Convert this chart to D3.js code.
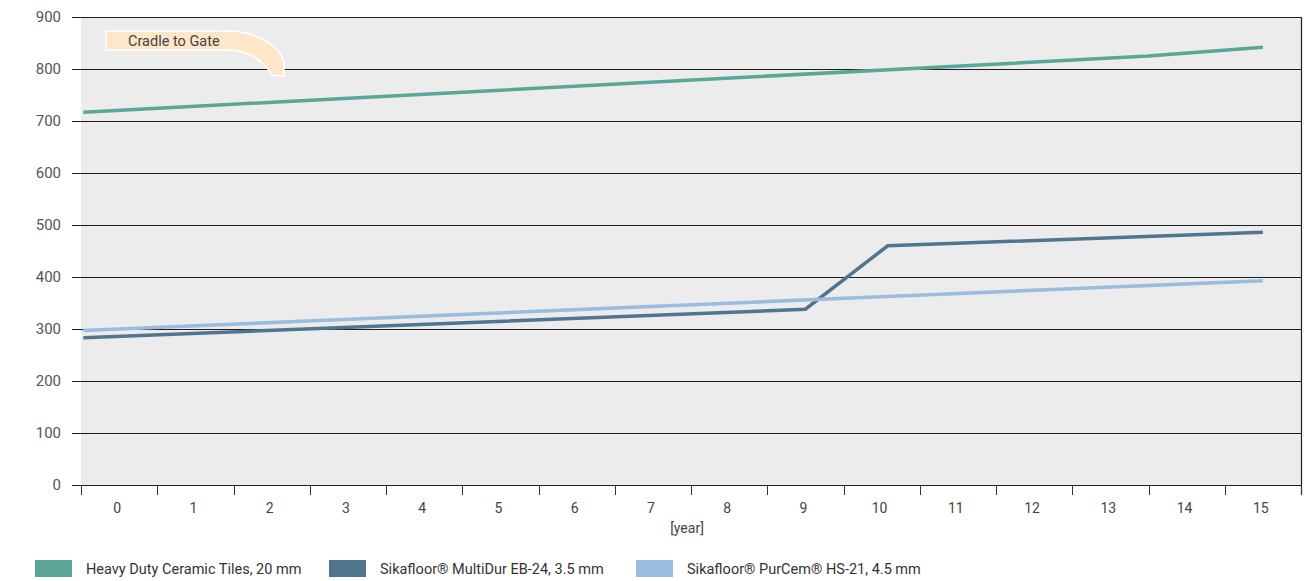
<!DOCTYPE html>
<html lang="en">

<head>
    <meta charset="UTF-8">
    <title>Cradle to Gate</title>
    <script src="https://d3js.org/d3.v7.min.js"></script>
    <style>
        body {
            margin: 0;
            background: #fff;
            font-family: Roboto, "Noto Sans", sans-serif;
        }

        .grid line {
            stroke: #1e1e1e;
            stroke-width: 1px;
        }

        .ytick {
            font-size: 15px;
            fill: #555;
        }

        .xtick {
            font-size: 14px;
            fill: #444;
        }

        .series {
            fill: none;
            stroke-width: 3.5px;
        }

        .legend text {
            font-size: 14.5px;
            fill: #333;
        }
    </style>
</head>

<body>
    <div id="chart"></div>
</body>

<script>
    const width = 1313;
    const height = 581;

    // x categories (years) and y ticks
    const years = d3.range(0, 16);
    const yTicks = [0, 100, 200, 300, 400, 500, 600, 700, 800, 900];

    // series: breakpoints (first point sits at the left edge)
    const ceramicYears = [-0.47, 13.5, 15];
    const ceramicValues = [717, 825, 842];
    const multiDurYears = [-0.47, 9, 10.08, 15];
    const multiDurValues = [283, 338, 460, 486];
    const purCemYears = [-0.47, 15];
    const purCemValues = [297, 393];

    const seriesNames = [
        "Heavy Duty Ceramic Tiles, 20 mm",
        "Sikafloor® MultiDur EB-24, 3.5 mm",
        "Sikafloor® PurCem® HS-21, 4.5 mm"
    ];
    const seriesColors = ["#5aa79a", "#50758e", "#99bcdf"];

    const series = [
        d3.zip(ceramicYears, ceramicValues),
        d3.zip(multiDurYears, multiDurValues),
        d3.zip(purCemYears, purCemValues)
    ];

    const plotLeft = 81, plotRight = 1301, plotTop = 17, plotBottom = 485;

    const x = d3.scaleLinear().domain([-0.5, 15.5]).range([plotLeft, plotRight]);
    const y = d3.scaleLinear().domain([0, 900]).range([plotBottom, plotTop]);

    const svg = d3.select("#chart")
        .append("svg")
        .attr("width", width)
        .attr("height", height);

    // plot background
    svg.append("rect")
        .attr("x", plotLeft)
        .attr("y", plotTop)
        .attr("width", plotRight - plotLeft)
        .attr("height", plotBottom - plotTop)
        .attr("fill", "#ececec");

    // horizontal grid lines
    const grid = svg.append("g").attr("class", "grid");
    grid.selectAll("line")
        .data(yTicks)
        .enter()
        .append("line")
        .attr("x1", 72)
        .attr("x2", plotRight)
        .attr("y1", d => Math.round(y(d)) + 0.5)
        .attr("y2", d => Math.round(y(d)) + 0.5);

    svg.selectAll(".ytick")
        .data(yTicks)
        .enter()
        .append("text")
        .attr("class", "ytick")
        .attr("x", 61)
        .attr("y", d => y(d))
        .attr("dy", "0.35em")
        .attr("text-anchor", "end")
        .text(d => d);

    // right border
    svg.append("line")
        .attr("x1", plotRight + 0.5)
        .attr("x2", plotRight + 0.5)
        .attr("y1", plotTop)
        .attr("y2", plotBottom + 10)
        .attr("stroke", "#1e1e1e")
        .attr("stroke-width", 1.2);

    // x ticks at band boundaries
    const bounds = d3.range(0, 17).map(i => i - 0.5);
    svg.selectAll(".xmark")
        .data(bounds)
        .enter()
        .append("line")
        .attr("class", "xmark")
        .attr("x1", d => Math.round(x(d)) + 0.5)
        .attr("x2", d => Math.round(x(d)) + 0.5)
        .attr("y1", plotBottom)
        .attr("y2", plotBottom + 10)
        .attr("stroke", "#333")
        .attr("stroke-width", 1);

    svg.selectAll(".xtick")
        .data(years)
        .enter()
        .append("text")
        .attr("class", "xtick")
        .attr("x", d => x(d) - 2)
        .attr("y", 508)
        .attr("dy", "0.35em")
        .attr("text-anchor", "middle")
        .text(d => d);

    svg.append("text")
        .attr("class", "xtick")
        .attr("x", 687)
        .attr("y", 528)
        .attr("dy", "0.35em")
        .attr("text-anchor", "middle")
        .text("[year]");

    // series lines
    const line = d3.line()
        .x(d => x(d[0]))
        .y(d => y(d[1]));

    svg.selectAll(".series")
        .data(series)
        .enter()
        .append("path")
        .attr("class", "series")
        .attr("d", line)
        .attr("stroke", (d, i) => seriesColors[i]);

    // "Cradle to Gate" callout
    const note = svg.append("g").attr("transform", "translate(106,31)");
    note.append("path")
        .attr("d", "M0,0 H122 C150,0 172,14 178,30 L178,45 L166,44 C158,30 142,19 122,19 H0 Z")
        .attr("fill", "#fde7c8")
        .attr("stroke", "#fff")
        .attr("stroke-width", 1.5);
    note.append("text")
        .attr("x", 22)
        .attr("y", 9.5)
        .attr("dy", "0.35em")
        .attr("font-size", 14.5)
        .attr("fill", "#444")
        .text("Cradle to Gate");

    // legend
    const legendX = [35, 329, 636];
    const legend = svg.append("g").attr("class", "legend");
    const items = legend.selectAll("g")
        .data(seriesNames)
        .enter()
        .append("g")
        .attr("transform", (d, i) => `translate(${legendX[i]},560)`);
    items.append("rect")
        .attr("width", 37)
        .attr("height", 17)
        .attr("fill", (d, i) => seriesColors[i]);
    items.append("text")
        .attr("x", 51)
        .attr("y", 9)
        .attr("dy", "0.35em")
        .text(d => d);
</script>

</html>
